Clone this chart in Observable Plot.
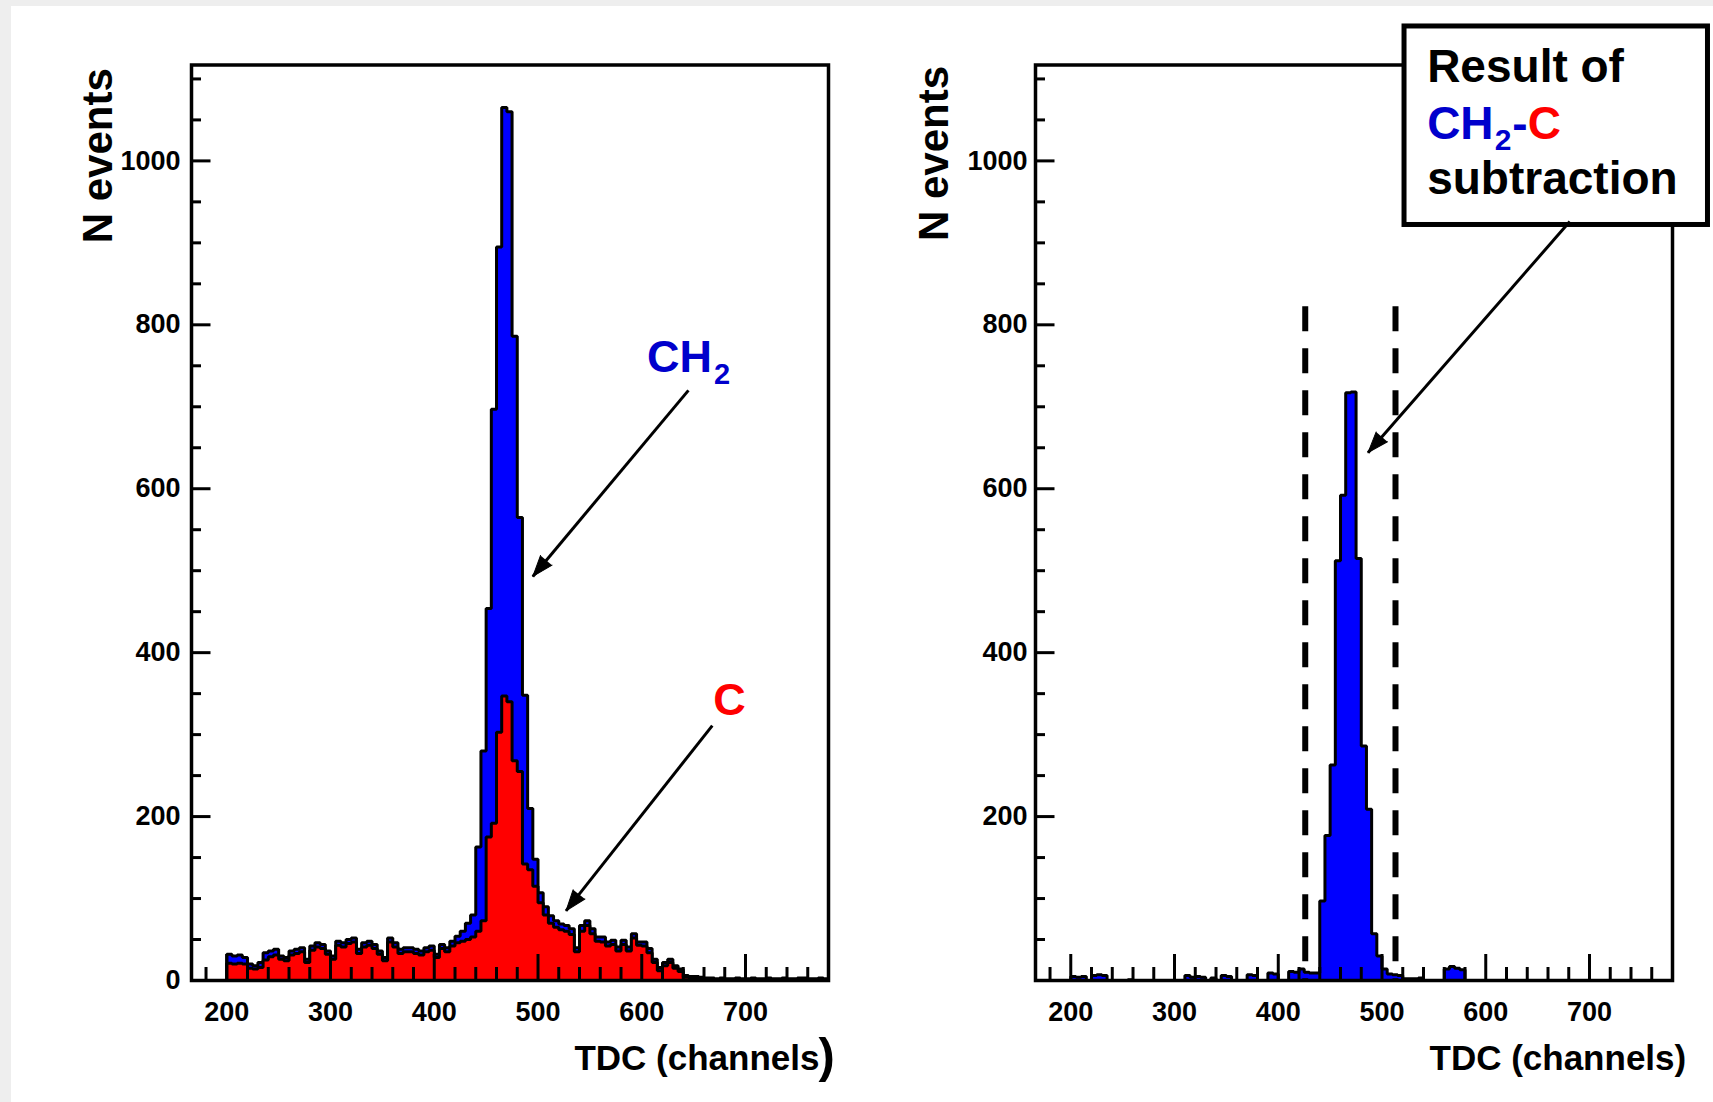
<!DOCTYPE html>
<html>
<head>
<meta charset="utf-8">
<script src="https://cdn.jsdelivr.net/npm/d3@7"></script>
<script src="https://cdn.jsdelivr.net/npm/@observablehq/plot@0.6"></script>
<style>
  html, body { margin: 0; padding: 0; background: #ffffff; width: 1713px; height: 1102px; overflow: hidden; }
  #stripTop { position: absolute; left: 0; top: 0; width: 1713px; height: 6px; background: #eeeeee; }
  #stripLeft { position: absolute; left: 0; top: 0; width: 11px; height: 1102px; background: #eeeeee; }
  #left { position: absolute; left: 0; top: 0; }
  #right { position: absolute; left: 857px; top: 0; }
</style>
</head>
<body>
<div id="stripTop"></div>
<div id="stripLeft"></div>
<div id="left"></div>
<div id="right"></div>
<script>
// ---------- DATA ----------
const binWidth = 5;
const binStart = [
  200,205,210,215,220,225,230,235,240,245,
  250,255,260,265,270,275,280,285,290,295,
  300,305,310,315,320,325,330,335,340,345,
  350,355,360,365,370,375,380,385,390,395,
  400,405,410,415,420,425,430,435,440,445,
  450,455,460,465,470,475,480,485,490,495,
  500,505,510,515,520,525,530,535,540,545,
  550,555,560,565,570,575,580,585,590,595,
  600,605,610,615,620,625,630,635,640,645,
  650,655,660,665,670,675,680,685,690,695,
  700,705,710,715,720,725,730,735,740,745,
  750,755,760,765,770,775
];
// CH2 target (blue)
const ch2Counts = [
  32,30,31,28,20,18,22,34,36,38,
  30,28,36,38,40,26,42,46,44,36,
  30,48,46,50,52,38,46,48,44,36,
  28,52,46,38,40,40,38,36,40,42,
  32,44,40,48,54,60,70,80,163,280,
  454,697,895,1065,1060,786,565,348,210,148,
  107,90,79,73,69,67,63,40,67,73,
  63,53,53,47,49,41,49,41,57,47,
  47,39,26,16,22,26,18,14,6,5,
  5,4,3,3,2,3,2,2,3,2,
  2,3,2,2,3,2,2,3,2,2,
  3,3,2,2,3,2
];
// C target (red)
const cCounts = [
  21,20,21,20,15,14,16,25,29,31,
  26,24,31,33,35,22,37,41,39,32,
  26,43,41,45,47,33,41,43,39,32,
  24,47,41,33,35,35,33,31,35,37,
  28,39,35,42,46,48,50,53,60,73,
  175,192,303,347,340,268,255,142,135,115,
  95,80,70,65,62,60,56,35,60,67,
  57,48,47,42,44,36,44,36,52,43,
  42,34,22,12,18,22,15,11,4,3,
  2,2,1,2,1,2,1,1,2,1,
  1,2,1,1,2,1,1,2,1,1,
  2,2,1,1,2,1
];
// CH2 - C subtraction result
const diffCounts = [
  5,4,5,0,6,7,6,0,0,0,
  0,1,0,0,0,0,0,0,0,0,
  0,0,6,4,5,4,0,3,0,6,
  5,0,0,0,7,6,0,0,9,8,
  0,0,11,10,14,10,9,9,97,177,
  263,512,592,717,718,515,286,209,57,30,
  14,8,7,6,2,2,2,3,0,0,
  0,0,14,17,15,13,0,0,0,0,
  0,0,0,0,0,0,0,0,0,0,
  0,0,0,0,0,0,0,0,0,0,
  0,0,0,0,0,0,0,0,0,0,
  0,0,0,0,0,0
];
const cutLines = [426, 513];
const cutTop = 822;

const xTickLabels = [200, 300, 400, 500, 600, 700];
const xMinorTicks = [180,220,240,260,280,320,340,360,380,420,440,460,480,520,540,560,580,620,640,660,680,720,740,760];
const yMajorTicks = [0, 200, 400, 600, 800, 1000];
const yMinorTicks = [50,100,150,250,300,350,450,500,550,650,700,750,850,900,950,1050,1100];
const yTickLabelsLeft = [0, 200, 400, 600, 800, 1000];
const yTickLabelsRight = [200, 400, 600, 800, 1000];

const xTitle = "TDC (channels)";
const yTitle = "N events";

// annotation anchors (data units)
const ch2Label = {x: 605, y: 742};
const cLabel = {x: 669, y: 324};
const ch2Arrow = {x1: 645, y1: 720, x2: 495, y2: 493};
const cArrow = {x1: 668, y1: 311, x2: 527, y2: 85};
const resultBox = {x1: 521.7, x2: 814.2, y1: 921.8, y2: 1164};
const resultText = {x: 543.5, y1: 1096, y2: 1027, y3: 960};
const resultArrow = {x1: 681, y1: 926, x2: 486.5, y2: 644};

// ---------- LAYOUT ----------
const xDomain = [166, 780];
const yDomain = [0, 1117];
const FONT = "'Liberation Sans', Arial, Helvetica, sans-serif";
const MT = 64.5, MB = 122, H = 1102;
const FH = H - MT - MB;
const BLUE = "#0000ff", RED = "#ff0000", TBLUE = "#0000cc";

function steps(counts) {
  const pts = [{x: binStart[0], y: 0}];
  binStart.forEach((b, i) => pts.push({x: b, y: counts[i]}));
  const last = binStart.length - 1;
  pts.push({x: binStart[last] + binWidth, y: counts[last]});
  pts.push({x: binStart[last] + binWidth, y: 0});
  return pts;
}

function histMarks(counts, fill) {
  const pts = steps(counts);
  return [
    Plot.areaY(pts, {x: "x", y: "y", curve: "step-after", fill}),
    Plot.lineY(pts, {x: "x", y: "y", curve: "step-after", stroke: "black", strokeWidth: 3, strokeLinejoin: "miter", strokeLinecap: "butt"})
  ];
}

function headRotate(a, FW) {
  const sx = FW / (xDomain[1] - xDomain[0]);
  const sy = FH / (yDomain[1] - yDomain[0]);
  const dx = (a.x2 - a.x1) * sx;
  const dy = -(a.y2 - a.y1) * sy;
  return Math.atan2(dx, -dy) * 180 / Math.PI;
}

function arrowMarks(a, FW) {
  return [
    Plot.link([a], {x1: "x1", y1: "y1", x2: "x2", y2: "y2", stroke: "black", strokeWidth: 3}),
    Plot.vector([a], {x: "x2", y: "y2", rotate: headRotate(a, FW), length: 21, anchor: "end", shape: "spike", r: 7.5, fill: "black", stroke: "black", strokeWidth: 1})
  ];
}

function axesMarks(FW, yLabels, yLabelDx, titleDx, titleDy, xTitleDx, splitParen) {
  const marks = [
    Plot.ruleX(xTickLabels, {x: d => d, insetTop: FH - 26, stroke: "black", strokeWidth: 3}),
    Plot.ruleX(xMinorTicks, {x: d => d, insetTop: FH - 13, stroke: "black", strokeWidth: 3}),
    Plot.ruleY(yMajorTicks, {y: d => d, insetRight: FW - 19.5, stroke: "black", strokeWidth: 3}),
    Plot.ruleY(yMinorTicks, {y: d => d, insetRight: FW - 10, stroke: "black", strokeWidth: 3}),
    Plot.frame({stroke: "black", strokeWidth: 3.5}),
    Plot.text(xTickLabels, {x: d => d, text: d => String(d), frameAnchor: "bottom", lineAnchor: "top", dy: 21, fontSize: 27, fontWeight: "bold", fontFamily: FONT, fill: "black"}),
    Plot.text(yLabels, {y: d => d, text: d => String(d), frameAnchor: "left", textAnchor: "end", dx: yLabelDx, fontSize: 27, fontWeight: "bold", fontFamily: FONT, fill: "black"}),
    Plot.text([yTitle], {text: d => d, frameAnchor: "top-left", rotate: -90, textAnchor: "end", lineAnchor: "bottom", dx: titleDx, dy: titleDy, fontSize: 42, fontWeight: "bold", fontFamily: FONT, fill: "black"})
  ];
  if (splitParen) {
    marks.push(Plot.text([xTitle.slice(0, -1)], {text: d => d, frameAnchor: "bottom-right", textAnchor: "end", lineAnchor: "bottom", dx: xTitleDx, dy: 89.6, fontSize: 35, fontWeight: "bold", fontFamily: FONT, fill: "black"}));
    marks.push(Plot.text([xTitle.slice(-1)], {text: d => d, frameAnchor: "bottom-right", textAnchor: "start", lineAnchor: "bottom", dx: xTitleDx - 1, dy: 91, fontSize: 49, fontWeight: "bold", fontFamily: FONT, fill: "black"}));
  } else {
    marks.push(Plot.text([xTitle], {text: d => d, frameAnchor: "bottom-right", textAnchor: "end", lineAnchor: "bottom", dx: xTitleDx, dy: 89.6, fontSize: 35, fontWeight: "bold", fontFamily: FONT, fill: "black"}));
  }
  return marks;
}

const txt = (o) => Object.assign({fontWeight: "bold", fontFamily: FONT, textAnchor: "start", lineAnchor: "bottom"}, o);

// ---------- LEFT PANEL ----------
{
  const W = 857, ML = 191, MR = 29;
  const FW = W - ML - MR;
  const plot = Plot.plot({
    width: W, height: H,
    marginLeft: ML, marginRight: MR, marginTop: MT, marginBottom: MB,
    x: {domain: xDomain, axis: null},
    y: {domain: yDomain, axis: null},
    style: {background: "transparent", overflow: "visible"},
    marks: [
      ...histMarks(ch2Counts, BLUE),
      ...histMarks(cCounts, RED),
      ...axesMarks(FW, yTickLabelsLeft, -11, -80, 3.2, -9, true),
      Plot.text([ch2Label], txt({x: "x", y: "y", text: () => "CH", fill: TBLUE, fontSize: 45})),
      Plot.text([ch2Label], txt({x: "x", y: "y", text: () => "2", fill: TBLUE, fontSize: 29, dx: 67, dy: 12})),
      Plot.text([cLabel], txt({x: "x", y: "y", text: () => "C", fill: RED, fontSize: 45})),
      ...arrowMarks(ch2Arrow, FW),
      ...arrowMarks(cArrow, FW)
    ]
  });
  document.getElementById("left").appendChild(plot);
}

// ---------- RIGHT PANEL ----------
{
  const W = 856, ML = 178, MR = 41;
  const FW = W - ML - MR;
  const plot = Plot.plot({
    width: W, height: H,
    marginLeft: ML, marginRight: MR, marginTop: MT, marginBottom: MB,
    x: {domain: xDomain, axis: null},
    y: {domain: yDomain, axis: null},
    style: {background: "transparent", overflow: "visible"},
    marks: [
      ...histMarks(diffCounts, BLUE),
      Plot.ruleX(cutLines, {x: d => d, y1: cutTop, y2: 0, stroke: "black", strokeWidth: 6, strokeDasharray: "25,17"}),
      ...axesMarks(FW, yTickLabelsRight, -8, -88, 1, 13.7, false),
      Plot.rect([resultBox], {x1: "x1", x2: "x2", y1: "y1", y2: "y2", fill: "white", stroke: "black", strokeWidth: 5}),
      Plot.text([resultText], txt({x: "x", y: "y1", text: () => "Result of", fill: "black", fontSize: 46})),
      Plot.text([resultText], txt({x: "x", y: "y2", text: () => "CH", fill: TBLUE, fontSize: 46})),
      Plot.text([resultText], txt({x: "x", y: "y2", text: () => "2", fill: TBLUE, fontSize: 30, dx: 67.5, dy: 11.7})),
      Plot.text([resultText], txt({x: "x", y: "y2", text: () => "-", fill: TBLUE, fontSize: 46, dx: 85})),
      Plot.text([resultText], txt({x: "x", y: "y2", text: () => "C", fill: RED, fontSize: 46, dx: 100.5})),
      Plot.text([resultText], txt({x: "x", y: "y3", text: () => "subtraction", fill: "black", fontSize: 46})),
      ...arrowMarks(resultArrow, FW)
    ]
  });
  document.getElementById("right").appendChild(plot);
}
</script>
</body>
</html>
